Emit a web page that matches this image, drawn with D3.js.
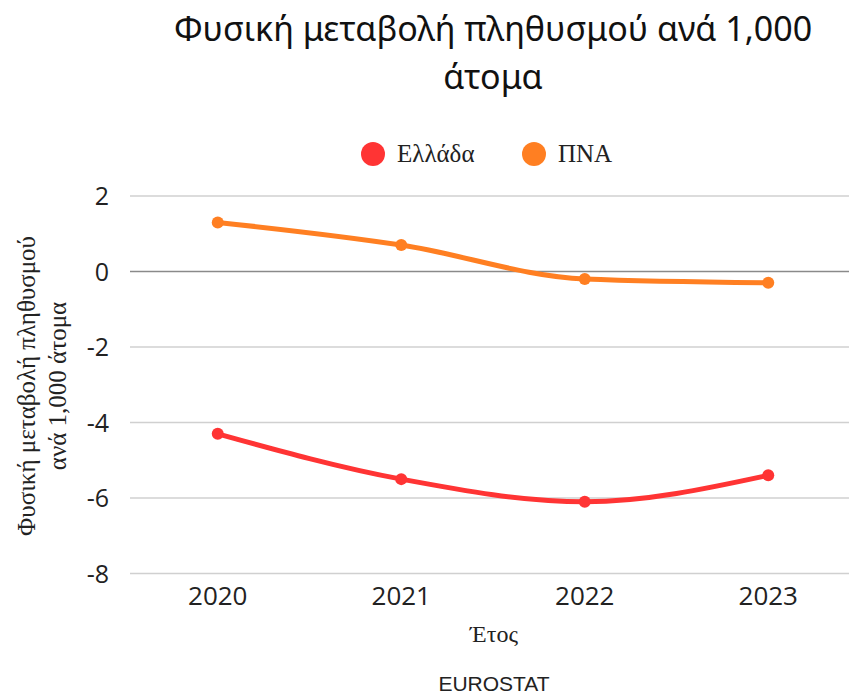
<!DOCTYPE html>
<html>
<head>
<meta charset="utf-8">
<script src="https://cdn.jsdelivr.net/npm/d3@7"></script>
<style>
  body { margin: 0; background: #fff; }
  svg { display: block; }
</style>
</head>
<body>
<div id="chart"></div>
<script>
// data
var years = ["2020", "2021", "2022", "2023"];
var greece = [-4.3, -5.5, -6.1, -5.4];
var eu = [1.3, 0.7, -0.2, -0.3];
var seriesNames = ["Ελλάδα", "ΠΝΑ"];
var yTicks = [2, 0, -2, -4, -6, -8];

var W = 849, H = 694;
var margin = { top: 196, right: -11, bottom: 121, left: 126 },
    width = W - margin.left - margin.right,
    height = H - margin.top - margin.bottom;

var colors = ["#ff3434", "#ff7f22"];

var svg = d3.select("#chart").append("svg")
    .attr("width", W)
    .attr("height", H);

var g = svg.append("g")
    .attr("transform", "translate(" + margin.left + "," + margin.top + ")");

var x = d3.scalePoint().domain(years).range([0, width]).padding(0.5);
var y = d3.scaleLinear().domain([-8, 2]).range([height + 0.5, 0]);

// gridlines
g.selectAll(".grid")
    .data(yTicks)
    .enter().append("line")
    .attr("x1", 4)
    .attr("x2", width)
    .attr("y1", function (d) { return y(d); })
    .attr("y2", function (d) { return y(d); })
    .attr("stroke", function (d) { return d === 0 ? "#8a8a8a" : "#d0d0d0"; })
    .attr("stroke-width", 1.5);

// y tick labels
g.selectAll(".ylab")
    .data(yTicks)
    .enter().append("text")
    .attr("x", -17)
    .attr("y", function (d) { return y(d) + 9; })
    .attr("text-anchor", "end")
    .style("font-family", "'Open Sans', Arial, sans-serif")
    .style("font-size", "25px")
    .style("fill", "#222")
    .text(function (d) { return d; });

// x tick labels
g.selectAll(".xlab")
    .data(years)
    .enter().append("text")
    .attr("x", function (d) { return x(d); })
    .attr("y", height + 32)
    .attr("text-anchor", "middle")
    .style("font-family", "'Open Sans', Arial, sans-serif")
    .style("font-size", "26px")
    .style("fill", "#222")
    .text(function (d) { return d; });

var line = d3.line()
    .x(function (d, i) { return x(years[i]); })
    .y(function (d) { return y(d); })
    .curve(d3.curveMonotoneX);

[greece, eu].forEach(function (s, k) {
    g.append("path")
        .datum(s)
        .attr("fill", "none")
        .attr("stroke", colors[k])
        .attr("stroke-width", 5)
        .attr("d", line);
    g.selectAll(".pt" + k)
        .data(s)
        .enter().append("circle")
        .attr("cx", function (d, i) { return x(years[i]); })
        .attr("cy", function (d) { return y(d); })
        .attr("r", 6)
        .attr("fill", colors[k]);
});

// title
var title = svg.append("text")
    .attr("text-anchor", "middle")
    .style("font-family", "'Noto Sans', sans-serif")
    .style("font-size", "34px")
    .style("fill", "#111");
title.append("tspan").attr("x", 493).attr("y", 41).text("Φυσική μεταβολή πληθυσμού ανά 1,000");
title.append("tspan").attr("x", 493).attr("y", 89).text("άτομα");

// legend
var legX = [373, 534];
seriesNames.forEach(function (n, k) {
    svg.append("circle")
        .attr("cx", legX[k])
        .attr("cy", 154)
        .attr("r", 12)
        .attr("fill", colors[k]);
    svg.append("text")
        .attr("x", legX[k] + 24)
        .attr("y", 162)
        .style("font-family", "'Liberation Serif', serif")
        .style("font-size", "25px")
        .style("fill", "#222")
        .text(n);
});

// y axis title
var yt = svg.append("text")
    .attr("text-anchor", "middle")
    .attr("transform", "translate(0,386)rotate(-90)")
    .style("font-family", "'Liberation Serif', serif")
    .style("font-size", "25px")
    .style("fill", "#222");
yt.append("tspan").attr("x", 0).attr("y", 35).text("Φυσική μεταβολή πληθυσμού");
yt.append("tspan").attr("x", 0).attr("y", 66).text("ανά 1,000 άτομα");

// x axis title
svg.append("text")
    .attr("x", 494)
    .attr("y", 642)
    .attr("text-anchor", "middle")
    .style("font-family", "'Liberation Serif', serif")
    .style("font-size", "24px")
    .style("fill", "#222")
    .text("Έτος");

// source
svg.append("text")
    .attr("x", 494)
    .attr("y", 691)
    .attr("text-anchor", "middle")
    .style("font-family", "'Liberation Sans Narrow', 'Liberation Sans', sans-serif")
    .style("font-size", "21px")
    .style("fill", "#222")
    .text("EUROSTAT");
</script>
</body>
</html>
